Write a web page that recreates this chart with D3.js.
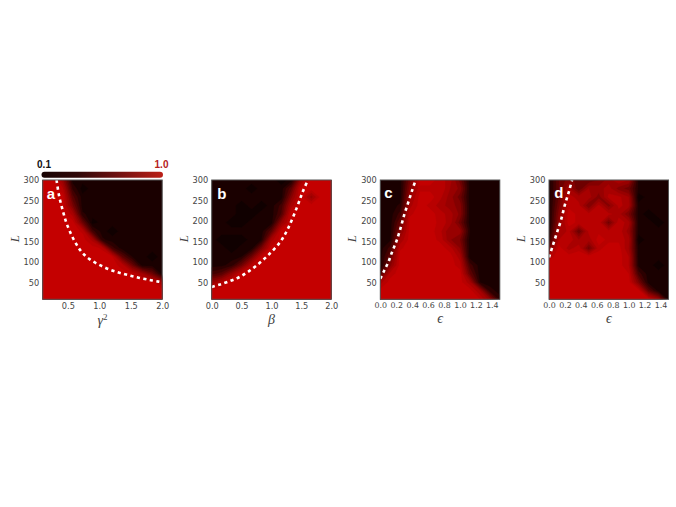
<!DOCTYPE html>
<html><head><meta charset="utf-8">
<script src="https://cdn.jsdelivr.net/npm/d3@7/dist/d3.min.js"></script>
<style>html,body{margin:0;padding:0;background:#fff}svg{display:block}</style>
</head><body><svg id="c" width="676" height="507"></svg>
<script>
// L grid, top row first
const gridL = [300,279,259,238,217,197,176,155,135,114,93,73,52,31,10];
const levels = [0.07,0.15,0.25,0.35,0.45,0.55,0.65,0.75,0.85,0.95];
const levelColors = ["#1a0000","#2c0000","#420000","#580000","#6e0000","#840000","#980000","#a80000","#b80000","#c40000","#cc0000"];

const gridA = [
[1,1,.68,.1,.1,.1,.1,.1,.1,.1,.1,.1,.1],
[1,1,.87,.23,.03,.1,.1,.1,.1,.1,.1,.1,.1],
[1,1,1,.39,.1,.1,.1,.1,.1,.1,.1,.1,.1],
[1,1,1,.55,.1,.1,.1,.1,.1,.1,.1,.1,.1],
[1,1,1,.81,.17,.1,.1,.1,.1,.1,.1,.1,.1],
[1,1,1,1,.49,.03,.1,.1,.1,.1,.1,.1,.1],
[1,1,1,1,.93,.29,.1,.03,.1,.1,.1,.1,.1],
[1,1,1,1,1,.81,.17,.1,.1,.1,.1,.1,.1],
[1,1,1,1,1,1,.93,.29,.1,.1,.1,.1,.1],
[1,1,1,1,1,1,1,.95,.42,.15,.1,.03,.1],
[1,1,1,1,1,1,1,1,.9,.49,.1,.1,.1],
[1,1,1,1,1,1,1,1,1,.95,.75,.49,.1],
[1,1,1,1,1,1,1,1,1,1,1,1,.74],
[1,1,1,1,1,1,1,1,1,1,1,1,1],
[1,1,1,1,1,1,1,1,1,1,1,1,1]];

const gridB = [
[.1,.1,.1,.1,.1,.1,.1,.03,.1,.74,1,1,1],
[.1,.1,.1,.1,.03,.1,.1,.1,.42,1,1,1,1],
[.1,.1,.1,.1,.1,.1,.1,.1,.61,1,.7,1,1],
[.1,.1,.1,.03,.1,.03,.1,.29,.81,1,1,1,1],
[.1,.1,.1,.03,.03,.1,.1,.36,1,1,1,1,1],
[.1,.1,.03,.03,.1,.1,.1,.68,1,1,1,1,1],
[.1,.1,.1,.1,.1,.1,.42,1,1,1,1,1,1],
[.1,.03,.03,.03,.1,.15,.81,1,1,1,1,1,1],
[.1,.1,.03,.1,.1,.55,1,1,1,1,1,1,1],
[.1,.1,.1,.15,.5,.95,1,1,1,1,1,1,1],
[.1,.12,.2,.5,.9,1,1,1,1,1,1,1,1],
[.3,.4,.7,1,1,1,1,1,1,1,1,1,1],
[.7,.85,1,1,1,1,1,1,1,1,1,1,1],
[.98,1,1,1,1,1,1,1,1,1,1,1,1],
[1,1,1,1,1,1,1,1,1,1,1,1,1]];

const gridC = [
[.1,.1,.1,.52,1,1,.9,.8,.5,.1,.1,.1,.1],
[.1,.1,.1,.61,.92,.92,.95,.75,.62,.1,.1,.1,.1],
[.1,.1,.1,.71,1,1,.88,.7,.5,.1,.1,.1,.1],
[.1,.1,.17,.81,1,.92,.8,.7,.6,.1,.1,.1,.1],
[.1,.1,.29,.93,1,1,.9,.8,.62,.1,.1,.1,.1],
[.1,.1,.45,1,1,1,.92,.8,.5,.1,.1,.1,.1],
[.1,.1,.61,1,1,1,.88,.66,.7,.15,.1,.1,.1],
[.1,.13,.77,1,1,1,.92,.66,.55,.1,.1,.1,.1],
[.1,.29,.93,1,1,1,1,.9,.65,.1,.1,.1,.1],
[.1,.45,1,1,1,1,1,1,.8,.1,.1,.1,.1],
[.1,.61,1,1,1,1,1,1,.9,.3,.1,.1,.1],
[.36,.9,1,1,1,1,1,1,1,.45,.1,.1,.1],
[.8,1,1,1,1,1,1,1,1,.78,.15,.1,.1],
[1,1,1,1,1,1,1,1,1,1,.75,.2,.1],
[1,1,1,1,1,1,1,1,1,1,.95,.7,.2]];

const gridD = [
[.1,.45,.6,.5,.45,.55,.7,.85,.75,.12,.1,.1,.1],
[.1,.45,.75,.45,.75,.7,.8,.6,.5,.12,.1,.1,.1],
[.1,.45,.9,.8,.8,.6,.88,.88,.75,.03,.1,.1,.1],
[.1,.52,.92,.88,.55,.88,.6,.88,.8,.1,.1,.1,.1],
[.1,.6,1,.92,.88,.92,.88,.8,.55,.1,.03,.1,.1],
[.1,.65,1,.92,.88,.92,.5,.92,.8,.1,.1,.03,.1],
[.15,.75,.88,.45,.88,.92,.88,.92,.7,.1,.1,.1,.1],
[.25,.85,.92,.75,.8,1,.92,.92,.8,.03,.1,.1,.1],
[.5,1,.8,.92,.5,.92,1,1,.75,.1,.1,.1,.1],
[.9,1,1,1,1,1,1,1,.85,.1,.1,.1,.1],
[1,1,1,1,1,1,1,1,.85,.12,.1,.03,.1],
[1,1,1,1,1,1,1,1,.95,.3,.1,.1,.1],
[1,1,1,1,1,1,1,1,1,.55,.1,.1,.1],
[1,1,1,1,1,1,1,1,1,1,.42,.1,.1],
[1,1,1,1,1,1,1,1,1,1,1,.74,.1]];

const curveAx = [.32,.36,.417,.47,.534,.62,.72,.85,1.01,1.17,1.33,1.48,1.64,1.8,1.94,2.0];
const curveAy = [300,262,227,199,174,148,125,107,93,82,74,68,62,57,53,51];
const curveBx = [0,.14,.3,.45,.6,.75,.95,1.15,1.28,1.42,1.52,1.61];
const curveBy = [40,46,54,63,76,92,118,150,183,231,270,300];
const curveCx = [0,.05,.1,.15,.2,.25,.3,.35,.4,.44];
const curveCy = [60,80,100,126,150,180,215,245,275,298];
const curveDx = [0,.05,.1,.15,.2,.25,.29];
const curveDy = [112,142,172,202,240,272,300];

const ticksAB = [0.5,1.0,1.5,2.0];
const ticksB = [0.0,0.5,1.0,1.5,2.0];
const ticksCD = [0.0,0.2,0.4,0.6,0.8,1.0,1.2,1.4];
const ticksL = [50,100,150,200,250,300];
const panelNames = ["a","b","c","d"];
const xLabels = ["γ","β","ϵ","ϵ"];
const xLefts = [42.7,211.7,380.3,549];
const xDomains = [[0.1,2.0],[0,2.0],[0,1.5],[0,1.5]];
const grids = [gridA,gridB,gridC,gridD];
const curvesX = [curveAx,curveBx,curveCx,curveDx];
const curvesY = [curveAy,curveBy,curveCy,curveDy];
const xTicks = [ticksAB,ticksB,ticksCD,ticksCD];
const letterOffsets = [[4,19],[5.6,19],[4,17.5],[5.3,17.7]];

const W = 119.5, plotTop = 180, H = 119.3;
const svg = d3.select("#c");
const defs = svg.append("defs");
const cc = levelColors;

const grad = defs.append("linearGradient").attr("id","cb");
grad.append("stop").attr("offset","0%").attr("stop-color","#180404");
grad.append("stop").attr("offset","30%").attr("stop-color","#300808");
grad.append("stop").attr("offset","60%").attr("stop-color","#6a1010");
grad.append("stop").attr("offset","100%").attr("stop-color","#bb2018");
svg.append("rect").attr("x",41.5).attr("y",171.7).attr("width",121.5).attr("height",6).attr("rx",3).attr("fill","url(#cb)");
svg.append("text").attr("x",44).attr("y",167.6).attr("text-anchor","middle").attr("font-family","Liberation Sans").attr("font-weight","bold").attr("font-size",10).attr("fill","#111").text("0.1");
svg.append("text").attr("x",161.5).attr("y",167.6).attr("text-anchor","middle").attr("font-family","Liberation Sans").attr("font-weight","bold").attr("font-size",10).attr("fill","#b5201a").text("1.0");

panelNames.forEach((name,p)=>{
  const g = svg.append("g").attr("transform",`translate(${xLefts[p]},${plotTop})`);
  const x = d3.scaleLinear().domain(xDomains[p]).range([0,W]);
  const y = d3.scaleLinear().domain([10,300]).range([H,0]);
  const grid = grids[p];
  const nc = grid[0].length, nr = grid.length;
  const colX = d3.scaleLinear().domain([0.5,nc-0.5]).range(xDomains[p]);
  const rowL = d3.scaleLinear().domain([0.5,nr-0.5]).range([gridL[0],gridL[nr-1]]);
  defs.append("clipPath").attr("id","clip"+name).append("rect").attr("width",W).attr("height",H);
  const plot = g.append("g").attr("clip-path",`url(#clip${name})`);
  plot.append("rect").attr("width",W).attr("height",H).attr("fill","#100000");
  const cont = d3.contours().size([nc,nr]).smooth(true).thresholds(levels)(grid.flat());
  const path = d3.geoPath(d3.geoTransform({point(a,b){this.stream.point(x(colX(a)),y(rowL(b)));}}));
  plot.selectAll("path.c").data(cont).join("path").attr("class","c").attr("d",path)
    .attr("fill",(d,i)=>cc[i]).attr("stroke",(d,i)=>cc[i]).attr("stroke-width",0.3);
  const line = d3.line().x(d=>x(d[0])).y(d=>y(d[1])).curve(d3.curveCatmullRom);
  plot.append("path").attr("d",line(d3.zip(curvesX[p],curvesY[p])))
    .attr("fill","none").attr("stroke","#fff").attr("stroke-width",2.6).attr("stroke-dasharray","3.2 3.4");
  g.append("rect").attr("width",W).attr("height",H).attr("fill","none").attr("stroke","#555").attr("stroke-width",1);

  const fnt = "DejaVu Sans";
  g.append("g").attr("transform",`translate(0,${H})`)
    .call(d3.axisBottom(x).tickValues(xTicks[p]).tickFormat(d3.format(".1f")).tickSize(0).tickPadding(3.5))
    .call(s=>{s.select(".domain").remove();s.selectAll("text").attr("font-family",fnt).attr("font-size",p>1?7.9:8.2).attr("fill","#444");});
  g.append("g")
    .call(d3.axisLeft(y).tickValues(ticksL).tickSize(0).tickPadding(3.5))
    .call(s=>{s.select(".domain").remove();s.selectAll("text").attr("font-family",fnt).attr("font-size",8.2).attr("fill","#444");});
  g.append("text").attr("transform",`translate(-24,${H/2-1}) rotate(-90)`).attr("text-anchor","middle")
    .attr("font-family","Liberation Serif").attr("font-style","italic").attr("font-size",13).attr("fill","#444").text("L");
  const xl = g.append("text").attr("x",W/2).attr("y",H+(p==0?26:p==1?25:24)).attr("text-anchor","middle")
    .attr("font-family","Liberation Serif").attr("font-style","italic").attr("font-size",14).attr("fill","#444").text(xLabels[p]);
  if(p==0) xl.append("tspan").attr("dy",-5).attr("font-size",9).attr("font-style","normal").text("2");
  g.append("text").attr("x",letterOffsets[p][0]).attr("y",letterOffsets[p][1])
    .attr("font-family","Liberation Sans").attr("font-weight","bold").attr("font-size",15).attr("fill","#fff").text(name);
});
</script></body></html>
